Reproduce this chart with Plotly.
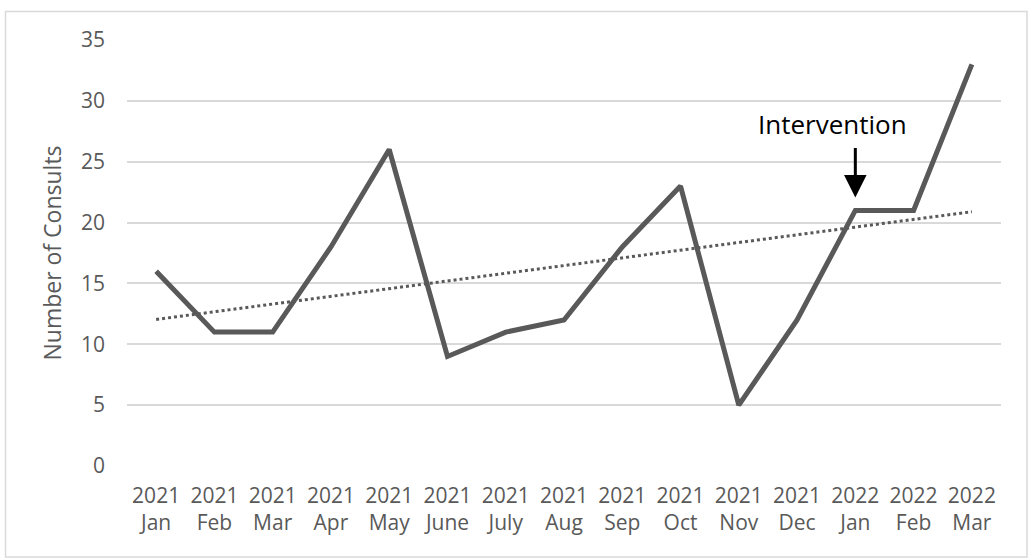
import numpy as np
import plotly.graph_objects as go

years = ["2021"] * 12 + ["2022"] * 3
months = ["Jan", "Feb", "Mar", "Apr", "May", "June", "July", "Aug", "Sep", "Oct", "Nov", "Dec",
          "Jan", "Feb", "Mar"]
consults = [16, 11, 11, 18, 26, 9, 11, 12, 18, 23, 5, 12, 21, 21, 33]
y_ticks = [0, 5, 10, 15, 20, 25, 30, 35]
intervention_index = 12
intervention_label = "Intervention"

categories = [f"{y}<br>{m}" for y, m in zip(years, months)]
idx = np.arange(len(consults))
slope, intercept = np.polyfit(idx, consults, 1)
trend = (slope * idx + intercept).tolist()

GRAY = "#595959"
FONT = "Open Sans"

fig = go.Figure()
fig.add_trace(go.Scatter(x=categories, y=trend, mode="lines",
                         line=dict(color=GRAY, width=3, dash="dot"),
                         hoverinfo="skip", showlegend=False))
fig.add_trace(go.Scatter(x=categories, y=consults, mode="lines",
                         line=dict(color=GRAY, width=5), showlegend=False))

fig.update_layout(
    width=1029, height=560,
    margin=dict(l=127, r=28, t=40, b=94),
    paper_bgcolor="white", plot_bgcolor="white",
    font=dict(family=FONT, color=GRAY, size=21),
    xaxis=dict(type="category", range=[-0.5, len(categories) - 0.5],
               showgrid=False, showline=False, ticks="",
               tickfont=dict(family=FONT, size=21, color=GRAY),
               ticklabelstandoff=15),
    yaxis=dict(range=[0, 35], tickvals=y_ticks, showgrid=True, gridcolor="#d9d9d9",
               gridwidth=1.5, zeroline=False, showline=False, ticks="",
               tickfont=dict(family=FONT, size=21, color=GRAY),
               ticklabelstandoff=21,
               title=dict(text="Number of Consults", font=dict(family=FONT, size=23, color=GRAY),
                          standoff=12)),
    shapes=[dict(type="rect", xref="paper", yref="paper",
                 x0=-121.5 / 874, x1=1 + 26 / 874, y0=-91 / 426, y1=1 + 28.5 / 426,
                 line=dict(color="#d9d9d9", width=1.5), fillcolor="rgba(0,0,0,0)", layer="below")],
)

fig.add_annotation(x=categories[intervention_index], y=consults[intervention_index],
                   xref="x", yref="y", text="", showarrow=True,
                   ax=0, ay=-64, arrowhead=2, arrowsize=1.5, arrowwidth=3,
                   arrowcolor="black", standoff=13)
fig.add_annotation(x=categories[intervention_index], y=consults[intervention_index],
                   xref="x", yref="y", text=intervention_label, showarrow=False,
                   xshift=-23, yshift=86, font=dict(family=FONT, size=26, color="black"))

fig.write_html("out.html")
